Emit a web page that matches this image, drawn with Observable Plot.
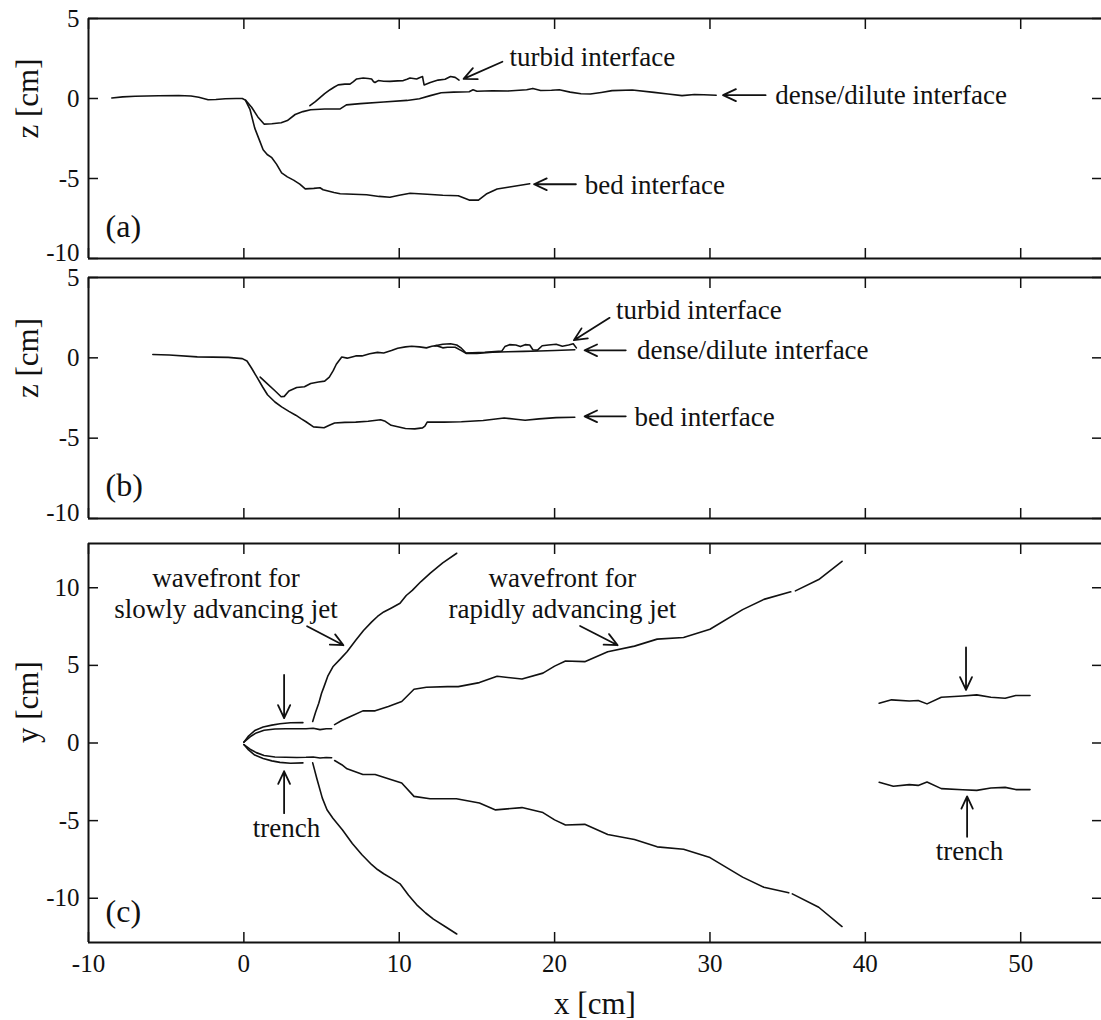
<!DOCTYPE html>
<html><head><meta charset="utf-8">
<script src="https://cdn.jsdelivr.net/npm/d3@7"></script>
<script src="https://cdn.jsdelivr.net/npm/@observablehq/plot@0.6"></script>
<style>
html,body{margin:0;padding:0;background:#fff;overflow:hidden;}
#chart svg{display:block;overflow:visible;}
</style></head><body><div id="chart"></div>
<script>
// ---------- ticks ----------
const xTicks = [-10, 0, 10, 20, 30, 40, 50];
const zTicks = [-10, -5, 0, 5];
const yTicks = [-10, -5, 0, 5, 10];
const xDomain = [-10, 55.2];
const zDomain = [-10, 5];
const yDomain = [-12.85, 12.85];

// ---------- panel (a) ----------
const aDense = [[-8.5,0.03],[-7.8,0.1],[-7.0,0.14],[-5.5,0.17],[-4.2,0.19],[-3.4,0.16],[-2.9,0.08],[-2.3,-0.08],[-1.8,-0.06],[-1.2,-0.02],[-0.5,0.0],[-0.1,0.0],[0.1,-0.1],[0.5,-0.55],[0.9,-1.15],[1.3,-1.6],[1.8,-1.58],[2.4,-1.52],[2.8,-1.38],[3.3,-1.0],[3.8,-0.82],[4.3,-0.7],[5.2,-0.66],[6.2,-0.65],[6.6,-0.4],[7.5,-0.32],[9,-0.22],[10.5,-0.12],[11.3,-0.02],[12,0.18],[12.7,0.36],[13.5,0.4],[14.5,0.42],[14.75,0.55],[15.0,0.45],[16,0.48],[17,0.47],[18.2,0.55],[18.6,0.63],[19.1,0.5],[19.8,0.52],[20.3,0.55],[21.0,0.4],[21.7,0.3],[22.3,0.28],[23.0,0.38],[23.7,0.49],[25,0.53],[26.4,0.38],[27.3,0.28],[28.2,0.18],[29.0,0.25],[29.6,0.23],[30.4,0.2]];
const aTurbid = [[4.25,-0.45],[4.6,-0.2],[4.9,0.05],[5.2,0.3],[5.55,0.55],[5.8,0.7],[6.07,0.85],[6.5,0.9],[6.83,0.9],[7.05,1.05],[7.26,1.22],[7.68,1.28],[8.0,1.25],[8.22,1.22],[8.35,1.05],[8.44,1.0],[8.65,1.12],[9.0,1.08],[9.4,1.07],[9.9,1.1],[10.26,1.12],[10.5,1.2],[10.69,1.28],[11.12,1.22],[11.3,1.3],[11.5,1.37],[11.55,1.1],[11.6,0.85],[12.0,1.0],[12.5,1.15],[12.95,1.2],[13.3,1.37],[13.6,1.32],[13.85,1.15]];
const aBed = [[0.1,-0.1],[0.4,-0.7],[0.7,-1.85],[1.0,-2.6],[1.24,-3.2],[1.5,-3.5],[1.8,-3.7],[2.1,-4.1],[2.43,-4.65],[2.8,-4.9],[3.2,-5.1],[3.6,-5.35],[3.95,-5.65],[4.5,-5.62],[4.9,-5.58],[5.1,-5.7],[5.8,-5.88],[6.2,-5.95],[7.9,-6.02],[8.7,-6.12],[9.4,-6.17],[10.0,-6.05],[10.7,-5.92],[11.8,-5.98],[12.8,-6.05],[13.8,-6.08],[14.5,-6.35],[15.1,-6.35],[15.6,-5.97],[16.3,-5.66],[17.1,-5.53],[17.8,-5.42],[18.4,-5.33]];
const aLabels = [
  {x: 17.1, y: 2.65, text: "turbid interface"},
  {x: 34.2, y: 0.25, text: "dense/dilute interface"},
  {x: 21.94, y: -5.34, text: "bed interface"}
];
const aArrows = [
  {x1: 16.64, y1: 2.3, x2: 14.14, y2: 1.23},
  {x1: 33.58, y1: 0.21, x2: 30.84, y2: 0.21},
  {x1: 21.37, y1: -5.36, x2: 18.68, y2: -5.36}
];

// ---------- panel (b) ----------
const bBed = [[-5.86,0.21],[-4.8,0.18],[-3.0,0.06],[-1.0,0.03],[-0.1,-0.05],[0.2,-0.2],[0.5,-0.65],[0.84,-1.2],[1.2,-1.8],[1.52,-2.3],[2.0,-2.75],[2.43,-3.05],[2.9,-3.33],[3.34,-3.57],[3.7,-3.8],[4.0,-3.98],[4.48,-4.3],[5.16,-4.35],[5.5,-4.2],[5.84,-4.06],[6.5,-4.02],[7.2,-4.0],[8.0,-3.95],[8.8,-3.85],[9.1,-3.95],[9.48,-4.2],[10.4,-4.4],[11.0,-4.42],[11.5,-4.36],[11.65,-4.25],[11.8,-4.0],[12.9,-4.0],[14,-3.98],[15.4,-3.9],[16.75,-3.74],[17.5,-3.82],[18.1,-3.88],[19.0,-3.8],[20.1,-3.72],[21.3,-3.7]];
const bDense = [[1.05,-1.2],[1.5,-1.6],[2.0,-2.05],[2.4,-2.42],[2.6,-2.4],[2.9,-2.07],[3.4,-1.85],[3.9,-1.8],[4.3,-1.6],[4.8,-1.5],[5.2,-1.45],[5.5,-1.2],[5.75,-0.8],[5.95,-0.4],[6.3,0.05],[6.65,-0.02],[7.2,0.12],[7.6,0.12],[8.1,0.25],[8.6,0.34],[9.0,0.3],[9.5,0.45],[9.9,0.6],[10.4,0.68],[10.8,0.72],[11.3,0.68],[11.75,0.62],[12.1,0.72],[12.4,0.76],[12.8,0.62],[13.1,0.66],[13.6,0.66],[14.0,0.45],[14.3,0.28],[15.0,0.28],[16,0.35],[17,0.38],[18,0.4],[19,0.43],[20,0.46],[21.3,0.5]];
const bTurbid = [[12.3,0.75],[12.8,0.85],[13.3,0.88],[13.7,0.8],[14.0,0.6],[14.3,0.3],[15.5,0.35],[16.6,0.42],[16.8,0.7],[17.1,0.82],[17.5,0.8],[17.8,0.7],[18.1,0.82],[18.4,0.8],[18.6,0.5],[18.9,0.48],[19.2,0.75],[19.6,0.8],[20.1,0.85],[20.5,0.72],[20.9,0.8],[21.2,0.88],[21.4,0.62]];
const bLabels = [
  {x: 23.95, y: 3.02, text: "turbid interface"},
  {x: 25.3, y: 0.55, text: "dense/dilute interface"},
  {x: 25.15, y: -3.6, text: "bed interface"}
];
const bArrows = [
  {x1: 23.54, y1: 2.49, x2: 21.24, y2: 1.1},
  {x1: 24.58, y1: 0.47, x2: 21.93, y2: 0.47},
  {x1: 24.58, y1: -3.64, x2: 21.93, y2: -3.64}
];

// ---------- panel (c) ----------
const slowUpper = [[4.43,1.39],[4.62,2.0],[4.82,2.56],[5.0,3.2],[5.16,3.63],[5.4,4.3],[5.73,4.91],[6.2,5.4],[6.64,5.88],[7.2,6.62],[7.7,7.25],[8.23,7.8],[8.6,8.15],[9.0,8.44],[9.5,8.7],[10.05,9.0],[10.45,9.5],[10.84,9.83],[11.4,10.4],[12.0,10.94],[12.8,11.6],[13.7,12.22]];
const slowLower = [[4.43,-1.28],[4.7,-2.3],[5.05,-3.55],[5.35,-4.3],[5.73,-4.85],[6.35,-5.6],[6.98,-6.47],[7.6,-7.2],[8.23,-7.84],[8.6,-8.15],[9.0,-8.42],[9.5,-8.72],[10.05,-9.07],[10.6,-9.8],[11.18,-10.48],[11.7,-10.95],[12.2,-11.34],[13.0,-11.85],[13.7,-12.3]];
const rapidUpper = [[5.84,1.18],[6.3,1.45],[6.86,1.71],[7.66,2.07],[8.45,2.07],[9.3,2.35],[10.16,2.67],[10.95,3.46],[11.75,3.59],[13.1,3.63],[13.8,3.63],[15.16,3.89],[16.3,4.3],[17.9,4.12],[19.25,4.5],[20.0,4.95],[20.7,5.28],[21.94,5.24],[23.42,5.88],[25.14,6.24],[26.6,6.69],[28.3,6.8],[30.0,7.33],[32.1,8.59],[33.47,9.25],[35.2,9.74],[NaN,NaN],[35.5,9.8],[37.0,10.53],[38.5,11.7]];
const rapidLower = [[5.84,-1.13],[6.3,-1.4],[6.64,-1.66],[7.66,-2.03],[8.45,-2.03],[9.3,-2.3],[10.16,-2.58],[10.95,-3.44],[11.98,-3.59],[13.68,-3.59],[15.16,-3.87],[16.2,-4.31],[17.9,-4.16],[19.25,-4.48],[20.0,-4.95],[20.7,-5.28],[21.94,-5.24],[23.42,-5.89],[25.14,-6.21],[26.6,-6.69],[28.3,-6.84],[30.0,-7.38],[32.1,-8.64],[33.47,-9.29],[35.07,-9.65],[NaN,NaN],[35.3,-9.72],[37.0,-10.58],[38.5,-11.82]];
const trenchUpperL = [[0.0,0.05],[0.3,0.45],[0.7,0.8],[1.24,1.03],[1.8,1.15],[2.32,1.24],[3.0,1.3],[3.8,1.31]];
const jetUpperL = [[0.0,0.05],[0.4,0.4],[0.8,0.65],[1.3,0.82],[2.0,0.9],[2.7,0.92],[3.4,0.92],[4.0,0.92],[4.46,0.95],[4.9,0.86],[5.3,0.92],[5.65,0.92]];
const trenchLowerL = [[0.0,-0.1],[0.3,-0.45],[0.7,-0.78],[1.24,-1.0],[1.8,-1.15],[2.32,-1.25],[3.0,-1.3],[3.8,-1.28]];
const jetLowerL = [[0.0,-0.1],[0.4,-0.4],[0.8,-0.62],[1.3,-0.8],[2.0,-0.9],[2.7,-0.92],[3.4,-0.93],[4.0,-0.92],[4.46,-0.9],[4.9,-0.97],[5.3,-0.93],[5.65,-0.95]];
const trenchUpperR = [[40.89,2.56],[41.69,2.78],[42.83,2.71],[43.4,2.74],[43.97,2.52],[44.89,2.95],[46.26,3.03],[47.17,3.1],[48.08,2.95],[49.0,2.88],[49.68,3.06],[50.6,3.06]];
const trenchLowerR = [[40.89,-2.53],[41.8,-2.79],[42.83,-2.68],[43.4,-2.73],[43.97,-2.51],[44.89,-2.94],[46.26,-3.01],[47.17,-3.05],[48.08,-2.9],[49.0,-2.86],[49.68,-3.0],[50.6,-3.0]];
const cLabels = [
  {x: -1.15, y: 9.72, text: "wavefront for\nslowly advancing jet"},
  {x: 20.5, y: 9.72, text: "wavefront for\nrapidly advancing jet"},
  {x: 2.75, y: -5.43, text: "trench"},
  {x: 46.7, y: -6.9, text: "trench"}
];
const cArrows = [
  {x1: 4.07, y1: 7.52, x2: 6.41, y2: 6.3},
  {x1: 21.64, y1: 7.54, x2: 24.06, y2: 6.3},
  {x1: 2.59, y1: 4.38, x2: 2.59, y2: 1.6},
  {x1: 2.59, y1: -4.52, x2: 2.59, y2: -1.82},
  {x1: 46.48, y1: 6.15, x2: 46.48, y2: 3.42},
  {x1: 46.55, y1: -6.04, x2: 46.55, y2: -3.44}
];

const panelTags = [
  {x: -8.9, y: -8.0, text: "(a)"},
  {x: -8.9, y: -7.95, text: "(b)"},
  {x: -8.9, y: -10.9, text: "(c)"}
];

// ---------- drawing ----------
const FONT = "'Liberation Serif', 'Times New Roman', serif";
const fmt = d => String(d);

function lineMark(arr) {
  return Plot.line(arr, {x: d => d[0], y: d => d[1], stroke: "#111", strokeWidth: 1.6, strokeLinejoin: "round"});
}

function panel({height, marginTop, marginBottom, yDom, yTk, edgeTk, lines, labels, labelAnchor, arrows, tag, ylabel, xlabels}) {
  const innerTk = yTk.filter(t => !edgeTk.includes(t));
  const marks = [
    // frame (top, bottom, left)
    Plot.ruleY([yDom[0], yDom[1]], {stroke: "#111", strokeWidth: 2}),
    Plot.ruleX([xDomain[0]], {stroke: "#111", strokeWidth: 2}),
    // inward ticks
    Plot.axisX({anchor: "bottom", ticks: xTicks, tickSize: -10, tickFormat: () => "", label: null, strokeWidth: 1.5}),
    Plot.axisX({anchor: "top", ticks: xTicks, tickSize: -10, tickFormat: () => "", label: null, strokeWidth: 1.5}),
    Plot.axisY({anchor: "left", ticks: yTk, tickSize: -10, tickFormat: () => "", label: null, strokeWidth: 1.5}),
    Plot.axisY({anchor: "right", ticks: yTk, tickSize: -10, tickFormat: () => "", label: null, strokeWidth: 1.5}),
    // y tick labels
    Plot.axisY({anchor: "left", ticks: innerTk, tickSize: 0, tickPadding: 9, tickFormat: fmt, label: null, fontSize: 25}),
    ...lines.map(lineMark),
    Plot.arrow(arrows, {x1: "x1", y1: "y1", x2: "x2", y2: "y2", stroke: "#111", strokeWidth: 1.8, headLength: 12, headAngle: 50}),
    Plot.text(labels, {x: "x", y: "y", text: "text", textAnchor: labelAnchor, lineAnchor: "middle", lineHeight: 1.15, fontSize: 27, fill: "#111"}),
    Plot.text([tag], {x: "x", y: "y", text: "text", textAnchor: "start", lineAnchor: "middle", fontSize: 32, fill: "#111"}),
    Plot.text([ylabel], {frameAnchor: "left", dx: -60, rotate: -90, fontSize: 31, fill: "#111", lineAnchor: "middle"})
  ];
  if (edgeTk.length) {
    // bottom-edge label sits slightly above its tick, as in the original figure
    marks.push(Plot.axisY({anchor: "left", ticks: edgeTk, tickSize: 0, tickPadding: 9, tickFormat: fmt, label: null, fontSize: 25, dy: -6}));
  }
  if (xlabels) {
    marks.push(Plot.axisX({anchor: "bottom", ticks: xTicks, tickSize: 0, tickPadding: 12, tickFormat: fmt, label: null, fontSize: 25}));
    marks.push(Plot.text(["x [cm]"], {frameAnchor: "bottom", dy: 62, fontSize: 31, fill: "#111", lineAnchor: "middle"}));
  }
  return Plot.plot({
    width: 1101, height,
    marginLeft: 88, marginRight: 0, marginTop, marginBottom,
    style: {fontFamily: FONT, background: "#fff", color: "#111"},
    x: {domain: xDomain, axis: null},
    y: {domain: yDom, axis: null},
    marks
  });
}

const chart = document.getElementById("chart");
chart.append(panel({
  height: 268, marginTop: 18, marginBottom: 10, yDom: zDomain, yTk: zTicks, edgeTk: [-10],
  lines: [aDense, aTurbid, aBed], labels: aLabels, labelAnchor: "start", arrows: aArrows,
  tag: panelTags[0], ylabel: "z [cm]", xlabels: false
}));
chart.append(panel({
  height: 259, marginTop: 9, marginBottom: 9, yDom: zDomain, yTk: zTicks, edgeTk: [-10],
  lines: [bBed, bDense, bTurbid], labels: bLabels, labelAnchor: "start", arrows: bArrows,
  tag: panelTags[1], ylabel: "z [cm]", xlabels: false
}));
chart.append(panel({
  height: 493, marginTop: 16, marginBottom: 78, yDom: yDomain, yTk: yTicks, edgeTk: [],
  lines: [slowUpper, slowLower, rapidUpper, rapidLower, trenchUpperL, jetUpperL, trenchLowerL, jetLowerL, trenchUpperR, trenchLowerR],
  labels: cLabels, labelAnchor: "middle", arrows: cArrows,
  tag: panelTags[2], ylabel: "y [cm]", xlabels: true
}));
</script></body></html>
